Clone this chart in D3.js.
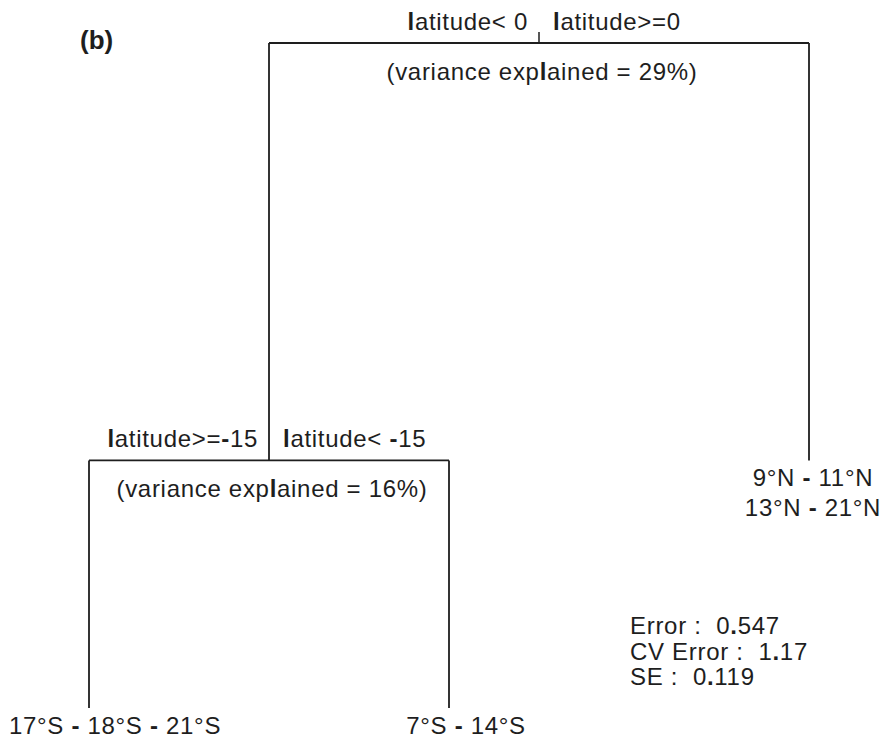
<!DOCTYPE html>
<html>
<head>
<meta charset="utf-8">
<script src="https://cdn.jsdelivr.net/npm/d3@7/dist/d3.min.js"></script>
<style>
  body { margin: 0; background: #fff; }
  svg text { font-family: "Liberation Sans", Arial, Helvetica, sans-serif; fill: #1e1e1e; white-space: pre; }
</style>
</head>
<body>
<svg id="chart" width="883" height="740"></svg>
<script>
// Regression tree on latitude: split labels, explained variance per split, leaf groups, fit stats
const panelLabel = "(b)";
const splitLeftLabels = ["latitude< 0", "latitude>=-15"];
const splitRightLabels = ["latitude>=0", "latitude< -15"];
const varianceExplained = [29, 16];           // % of total variance explained by each split
const leafLabels = [
  ["17°S - 18°S - 21°S"],
  ["7°S - 14°S"],
  ["9°N - 11°N", "13°N - 21°N"]
];
const fitStatNames = ["Error", "CV Error", "SE"];
const fitStatValues = ["0.547", "1.17", "0.119"];

// Tree topology: split index for internal nodes, leaf index for terminal nodes
const topology = { split: 0, children: [ { split: 1, children: [ { leaf: 0 }, { leaf: 1 } ] }, { leaf: 2 } ] };

const svg = d3.select("#chart");
const FONT = 24, SPACING = "0.7px";
const ink = "#1e1e1e";

const root = d3.hierarchy(topology);

// rpart-style coordinates: leaves at 1..n, parents at the mean of their children;
// depth axis is the cumulative variance explained along the path
let leafCount = 0;
root.eachAfter(n => {
  if (!n.children) n.u = ++leafCount;
  else n.u = d3.mean(n.children, c => c.u);
});
root.eachBefore(n => {
  n.v = n.parent ? n.parent.v + varianceExplained[n.parent.data.split] : 0;
});

const x = d3.scaleLinear().domain([1, leafCount]).range([89, 809]);
const y = d3.scalePow().exponent(1.06).domain([0, d3.sum(varianceExplained)]).range([43, 708]);

// Thin strokes (l, -, .) print heavier in this figure's typeface
function heavyRuns(sel, str) {
  const runs = [];
  for (const ch of str) {
    const heavy = ch === "l" || ch === "-" || ch === ".";
    if (runs.length && runs[runs.length - 1].heavy === heavy) runs[runs.length - 1].s += ch;
    else runs.push({ s: ch, heavy });
  }
  sel.selectAll("tspan").data(runs).join("tspan")
    .attr("font-weight", d => d.heavy ? "bold" : null)
    .text(d => d.s);
}

const g = svg.append("g");

// Branches: horizontal bar at the parent's level, verticals down to each child
const internal = root.descendants().filter(n => n.children);
g.selectAll("line.bar").data(internal).join("line")
  .attr("class", "bar")
  .attr("x1", d => x(d.children[0].u)).attr("x2", d => x(d.children[1].u))
  .attr("y1", d => y(d.v)).attr("y2", d => y(d.v))
  .attr("stroke", ink).attr("stroke-width", 1.8);

g.selectAll("line.drop").data(root.descendants().filter(n => n.parent)).join("line")
  .attr("class", "drop")
  .attr("x1", d => x(d.u)).attr("x2", d => x(d.u))
  .attr("y1", d => y(d.parent.v)).attr("y2", d => y(d.v))
  .attr("stroke", ink).attr("stroke-width", 1.8);

// Stub above the root node
g.append("line")
  .attr("x1", x(root.u)).attr("x2", x(root.u))
  .attr("y1", y(root.v) - 11).attr("y2", y(root.v))
  .attr("stroke", ink).attr("stroke-width", 1.5);

// Split rule labels
const labelText = sel => sel.attr("font-size", FONT).attr("letter-spacing", SPACING);
g.selectAll("text.splitL").data(internal).join("text")
  .attr("class", "splitL").call(labelText)
  .attr("x", d => x(d.u) - 11).attr("y", d => y(d.v) - 13)
  .attr("text-anchor", "end")
  .each(function (d) { heavyRuns(d3.select(this), splitLeftLabels[d.data.split]); });

g.selectAll("text.splitR").data(internal).join("text")
  .attr("class", "splitR").call(labelText)
  .attr("x", d => x(d.u) + 14).attr("y", d => y(d.v) - 13)
  .attr("text-anchor", "start")
  .each(function (d) { heavyRuns(d3.select(this), splitRightLabels[d.data.split]); });

g.selectAll("text.varexp").data(internal).join("text")
  .attr("class", "varexp").call(labelText)
  .attr("x", d => x(d.u) + 3).attr("y", d => y(d.v) + 37)
  .attr("text-anchor", "middle")
  .each(function (d) {
    heavyRuns(d3.select(this), `(variance explained = ${varianceExplained[d.data.split]}%)`);
  });

// Leaf labels
const leafShift = [26, 17, 4];
root.leaves().forEach(leaf => {
  leafLabels[leaf.data.leaf].forEach((line, i) => {
    g.append("text").call(labelText)
      .attr("text-anchor", "middle")
      .attr("x", x(leaf.u) + leafShift[leaf.data.leaf])
      .attr("y", y(leaf.v) + 26 + i * 30)
      .call(heavyRuns, line);
  });
});

// Fit statistics
fitStatNames.forEach((name, i) => {
  g.append("text").call(labelText)
    .attr("x", 630)
    .attr("y", 634 + i * 25.5)
    .call(heavyRuns, `${name} :  ${fitStatValues[i]}`);
});

// Panel tag
svg.append("text")
  .attr("x", 80).attr("y", 49)
  .attr("font-size", 26).attr("font-weight", "bold")
  .text(panelLabel);
</script>
</body>
</html>
